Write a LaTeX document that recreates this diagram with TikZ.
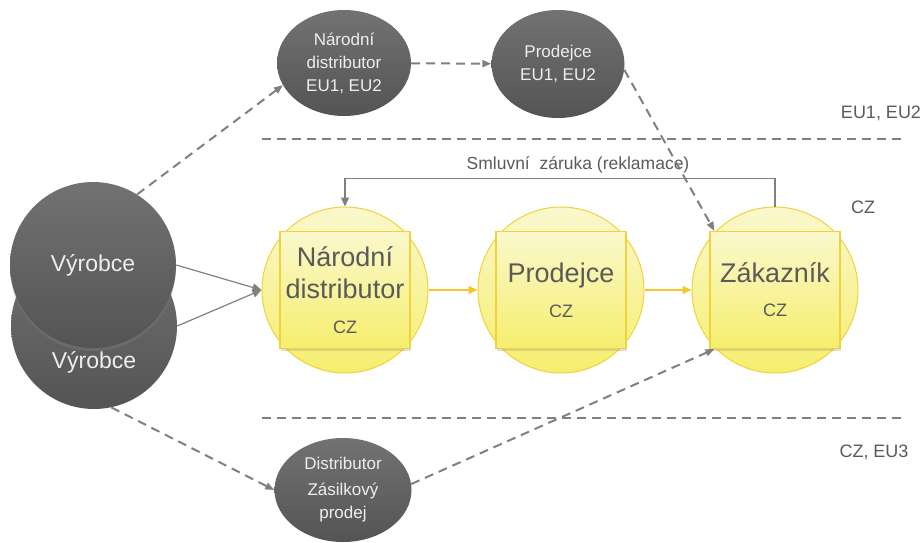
\documentclass[tikz,border=0pt]{standalone}
\usepackage{fontspec}
\setmainfont{Liberation Sans}
\definecolor{vgray}{RGB}{128,128,128}
\definecolor{vdarktop}{RGB}{114,114,114}
\definecolor{vdarkbot}{RGB}{84,84,84}
\definecolor{vtext}{RGB}{238,238,242}
\definecolor{vlabel}{RGB}{90,90,90}
\definecolor{vborder}{RGB}{240,210,60}
\definecolor{vyellowtop}{RGB}{250,248,205}
\definecolor{vyellowbot}{RGB}{246,238,110}
\definecolor{vgold}{RGB}{242,200,40}
\usetikzlibrary{arrows.meta,positioning,shapes.geometric,shadows,calc}

\tikzset{
  darkcircle/.style={circle, minimum size=166pt, inner sep=0pt, top color=vdarktop, bottom color=vdarkbot, text=vtext, font=\fontsize{23}{26}\selectfont},
  darkoval/.style={ellipse, inner sep=0pt, top color=vdarktop, bottom color=vdarkbot, text=vtext, align=center, font=\fontsize{17}{23}\selectfont},
  yellowcircle/.style={circle, minimum size=166pt, inner sep=0pt, draw=vborder, line width=1pt, top color=vyellowtop, bottom color=vyellowbot},
  yellowbox/.style={rectangle, minimum width=130pt, minimum height=117pt, draw=vborder, line width=1.2pt, top color=vyellowtop, bottom color=vyellowbot, align=center, text=vlabel, font=\fontsize{27}{32}\selectfont, drop shadow={opacity=0.25, shadow xshift=1pt, shadow yshift=-2pt}},
  zonelabel/.style={text=vlabel, font=\fontsize{18}{20}\selectfont},
  sepline/.style={vgray, line width=1.8pt, dash pattern=on 9pt off 6pt},
  dasharrow/.style={-{Triangle[length=9pt,width=7pt]}, vgray, line width=2pt, dash pattern=on 9pt off 6pt},
  plainarrow/.style={-{Triangle[length=9pt,width=8pt]}, vgray, line width=1.2pt},
  goldarrow/.style={-{Triangle[length=9pt,width=8pt]}, vgold, line width=1.4pt},
}

\begin{document}
\begin{tikzpicture}[x=1pt,y=-1pt]
  \useasboundingbox (0,0) rectangle (923,543);

  %% Zone separators and labels
  \coordinate (sepTopL) at (262,139);
  \coordinate (sepTopR) at (906,139);
  \coordinate (sepBotL) at (262,418);
  \coordinate (sepBotR) at (906,418);
  \draw[sepline] (sepTopL) -- (sepTopR);
  \draw[sepline] (sepBotL) -- (sepBotR);
  \node[zonelabel] (zoneEU) at (881,113) {EU1, EU2};
  \node[zonelabel] (zoneCZ) at (863,207) {CZ};
  \node[zonelabel] (zoneCZEU) at (874,452) {CZ, EU3};

  %% Manufacturers
  \node[darkcircle] (vyrobceB) at (94,326) {};
  \node[text=vtext, font=\fontsize{23}{26}\selectfont] (vyrobceBtext) at (94,362) {Výrobce};
  \node[darkcircle, drop shadow={opacity=0.35, shadow xshift=0pt, shadow yshift=-3pt}] (vyrobceA) at (93,265) {Výrobce};

  %% EU row
  \node[darkoval, minimum width=134pt, minimum height=106pt] (distEU) at (344,63) {Národní\\distributor\\EU1, EU2};
  \node[darkoval, minimum width=133pt, minimum height=108pt] (prodEU) at (558,64) {Prodejce\\EU1, EU2};

  %% CZ row
  \node[yellowcircle] (distCZc) at (345,290) {};
  \node[yellowbox] (distCZ) at (345,290) {Národní\\distributor\\[3pt]{\fontsize{18}{20}\selectfont CZ}};
  \node[yellowcircle] (prodCZc) at (561,290) {};
  \node[yellowbox] (prodCZ) at (561,290) {Prodejce\\[3pt]{\fontsize{18}{20}\selectfont CZ}};
  \node[yellowcircle] (zakCZc) at (775,290) {};
  \node[yellowbox] (zakBox) at (775,290) {Zákazník\\[2pt]{\fontsize{18}{20}\selectfont CZ}};

  %% Mail order
  \node[darkoval, minimum width=137pt, minimum height=104pt] (zasilka) at (343,490) {Distributor\\[3pt]\fontsize{17}{20}\selectfont Zásilkový\\prodej};

  %% Connectors
  \draw[plainarrow] (vyrobceA.east) -- (distCZc.west);
  \draw[plainarrow] (vyrobceB.east) -- (distCZc.west);
  \draw[goldarrow] (distCZc) -- (prodCZc);
  \draw[goldarrow] (prodCZc) -- (zakCZc);
  \draw[plainarrow] (zakCZc.north) -- ++(0,-28) coordinate (warrantyR) -| (distCZc.north);
  \node[text=vlabel, font=\fontsize{17.5}{20}\selectfont] (warranty) at (578,165) {Smluvní\ \ záruka (reklamace)};

  \draw[dasharrow] (vyrobceA.58) -- (distEU.200);
  \draw[dasharrow] (distEU) -- (prodEU);
  \draw[dasharrow] (prodEU.-5) -- ([xshift=5pt]zakBox.north west);
  \draw[dasharrow] (vyrobceB.-78) -- (zasilka.west);
  \draw[dasharrow] (zasilka.5) -- ([xshift=5pt]zakBox.south west);
\end{tikzpicture}
\end{document}
